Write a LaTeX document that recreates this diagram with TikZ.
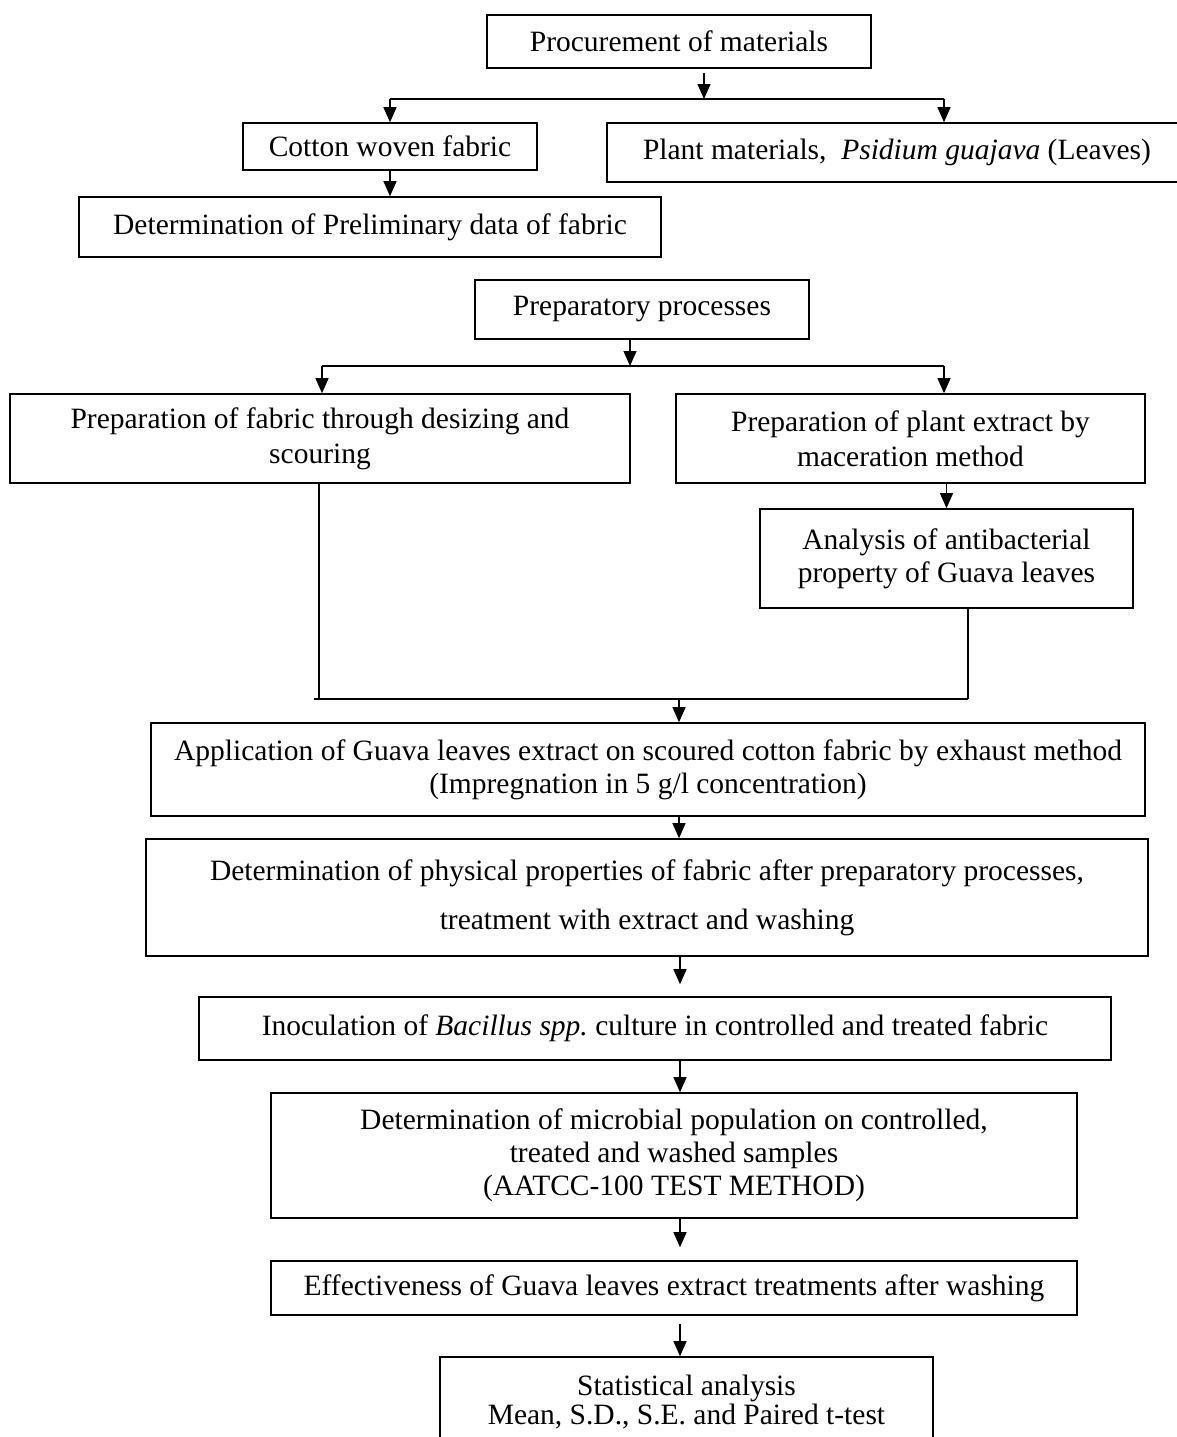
\documentclass[tikz,border=0pt]{standalone}
\usepackage{fontspec}
\setmainfont{Liberation Serif}
\usetikzlibrary{arrows.meta}
\frenchspacing
\begin{document}
\begin{tikzpicture}[x=0.5pt,y=-0.5pt,
  box/.style={draw, line width=0.8pt, rectangle, align=center, inner sep=0pt,
    font=\fontsize{14.75pt}{16.5pt}\selectfont},
  conn/.style={line width=0.6pt},
  arr/.style={conn, -{Triangle[length=7.5pt,width=6.5pt]}}]
\useasboundingbox (0,0) rectangle (1177,1437);
\clip (0,0) rectangle (1177,1437);

% boxes
\node[box, minimum width=192pt, minimum height=26.5pt] (proc) at (679,41.5) {Procurement of materials};
\node[box, minimum width=147pt, minimum height=23.5pt] (cotton) at (390,146.5) {Cotton woven fabric};
\node[box, inner xsep=18pt, minimum height=29.5pt] (plant) at (898.5,152.5)
  {\makebox[255.5pt][l]{Plant materials,~ \textit{Psidium guajava} (Leaves)}};
\node[box, minimum width=291pt, minimum height=30pt] (prelim) at (370,227) {Determination of Preliminary data of fabric};
\node[box, minimum width=167pt, minimum height=29.5pt] (prep) at (642,309.5) {Preparatory processes};
\node[box, minimum width=310pt, minimum height=44.5pt] (fabprep) at (320,438.5)
  {Preparation of fabric through desizing and\\[1pt]scouring};
\node[box, minimum width=234.5pt, minimum height=44.5pt] (plantprep) at (910.5,438.5)
  {Preparation of plant extract by\\[1pt]maceration method};
\node[box, minimum width=186.5pt, minimum height=49.5pt] (analysis) at (946.5,558.5)
  {Analysis of antibacterial\\property of Guava leaves};
\node[box, minimum width=497pt, minimum height=46.5pt] (app) at (648,769.5)
  {Application of Guava leaves extract on scoured cotton fabric by exhaust method\\(Impregnation in 5 g/l concentration)};
\node[box, minimum width=501pt, minimum height=58.5pt] (phys) at (647,897.5)
  {Determination of physical properties of fabric after preparatory processes,\\[8pt]treatment with extract and washing};
\node[box, minimum width=456pt, minimum height=31.5pt] (inoc) at (655,1028.5)
  {Inoculation of \textit{Bacillus spp.} culture in controlled and treated fabric};
\node[box, minimum width=403pt, minimum height=62.5pt] (micro) at (674,1155.5)
  {Determination of microbial population on controlled,\\treated and washed samples\\(AATCC-100 TEST METHOD)};
\node[box, minimum width=403pt, minimum height=27pt] (eff) at (674,1288)
  {Effectiveness of Guava leaves extract treatments after washing};
\node[box, minimum width=246.5pt, minimum height=45pt] (stat) at (686.5,1402)
  {Statistical analysis\\[-2pt]Mean, S.D., S.E. and Paired t-test};

% helper coordinates
\coordinate (a1) at (704,99);
\coordinate (bl) at (390,99);
\coordinate (br) at (944,99);
\coordinate (a2) at (630,366);
\coordinate (cl) at (322,366);
\coordinate (cr) at (944,366);
\coordinate (j1) at (319,699);
\coordinate (j2) at (968,699);
\coordinate (j) at (679,699);
\coordinate (k) at (680,0);
\path (inoc.north -| k) ++(0,-12) coordinate (inocTop);
\path (eff.north -| k) ++(0,-13) coordinate (effTop);
\path (eff.south -| k) ++(0,8) coordinate (effBot);
\path (proc.south -| a1) ++(0,4) coordinate (procBot);

% connectors
\draw[arr] (procBot) -- (a1);
\draw[conn] (bl) -- (br);
\draw[arr] (bl) -- (bl |- cotton.north);
\draw[arr] (br) -- (br |- plant.north);
\draw[arr] (cotton.south) -- (cotton.south |- prelim.north);

\draw[arr] (prep.south -| a2) -- (a2);
\draw[conn] (cl) -- (cr);
\draw[arr] (cl) -- (cl |- fabprep.north);
\draw[arr] (cr) -- (cr |- plantprep.north);
\draw[arr] (plantprep.south -| analysis.north) -- (analysis.north);

\draw[conn] (fabprep.south -| j1) -- (j1);
\draw[conn] (analysis.south -| j2) -- (j2);
\draw[conn] ([xshift=-2.5pt]j1) -- (j2);
\draw[arr] (j) -- (app.north -| j);
\draw[arr] (app.south -| j) -- (phys.north -| j);
\draw[arr] (phys.south -| k) -- (inocTop);
\draw[arr] (inoc.south -| k) -- (micro.north -| k);
\draw[arr] (micro.south -| k) -- (effTop);
\draw[arr] (effBot) -- (stat.north -| k);
\end{tikzpicture}
\end{document}
